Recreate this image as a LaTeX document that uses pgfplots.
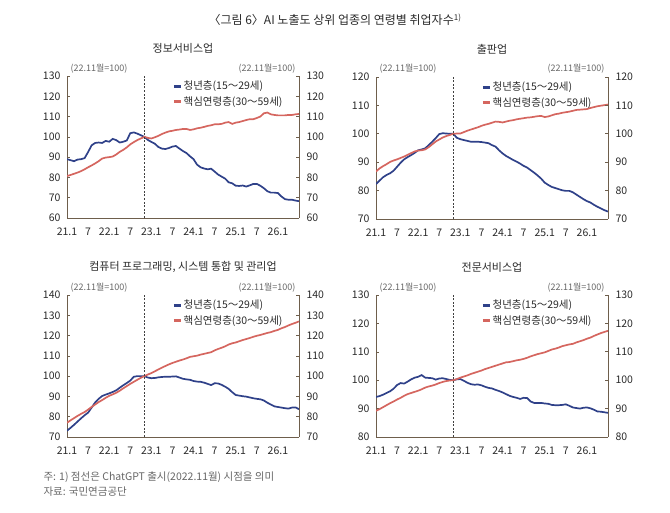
\documentclass[border=0pt]{standalone}
\usepackage{pgfplots}
\pgfplotsset{compat=1.18}
\usepackage{pgfplotstable}
\usepackage{fontspec}
\setmainfont{Noto Sans CJK KR}
\definecolor{young}{HTML}{2F4189}
\definecolor{core}{HTML}{D5665F}
\definecolor{axcol}{HTML}{6E5E4C}
\definecolor{txt}{HTML}{2A2A2A}
\definecolor{sub}{HTML}{666666}

\pgfplotstableread{
m y c
0 89.0 80.7
1 88.5 81.2
2 88.0 81.8
3 88.8 82.4
4 89.0 83.1
5 89.5 84.0
6 92.5 85.0
7 95.8 85.9
8 97.0 86.9
9 97.2 88.0
10 97.0 89.3
11 98.0 89.8
12 97.6 90.0
13 99.0 90.3
14 98.4 91.3
15 97.2 92.6
16 97.6 93.6
17 98.2 94.8
18 101.8 96.3
19 102.2 97.4
20 101.6 98.4
21 100.8 99.2
22 100.0 100.0
23 98.5 99.5
24 97.5 99.2
25 96.6 99.8
26 95.0 100.5
27 94.2 101.4
28 94.0 102.1
29 94.5 102.7
30 95.2 103.0
31 95.5 103.4
32 94.2 103.6
33 93.0 103.9
34 92.0 103.9
35 90.4 103.4
36 89.0 103.7
37 86.3 104.2
38 85.0 104.5
39 84.4 104.9
40 84.0 105.4
41 84.3 105.7
42 82.9 106.2
43 81.4 106.2
44 80.4 106.4
45 79.4 107.0
46 77.6 107.3
47 77.1 106.4
48 75.9 107.0
49 75.8 107.3
50 76.0 107.8
51 75.5 108.3
52 76.1 108.7
53 76.8 108.7
54 76.8 109.3
55 75.9 110.0
56 74.7 111.6
57 73.2 112.0
58 72.5 111.1
59 72.5 110.8
60 72.3 110.6
61 70.6 110.6
62 69.3 110.6
63 69.0 110.8
64 69.0 110.8
65 68.6 111.1
66 68.3 111.3
}\tabA

\pgfplotstableread{
m y c
0 82.3 86.7
1 83.5 87.8
2 84.7 88.6
3 85.5 89.3
4 86.1 90.1
5 87.0 90.6
6 88.4 91.0
7 89.8 91.5
8 91.0 92.0
9 91.8 92.6
10 92.5 93.2
11 93.3 93.8
12 94.2 94.1
13 94.5 94.2
14 94.9 94.5
15 96.0 95.3
16 97.2 96.3
17 98.5 97.3
18 99.9 98.0
19 100.2 98.7
20 100.1 99.2
21 100.0 99.6
22 100.0 100.0
23 98.6 100.1
24 98.1 100.1
25 97.8 100.6
26 97.5 101.1
27 97.2 101.5
28 97.2 101.9
29 97.2 102.3
30 97.1 102.8
31 96.9 103.2
32 96.7 103.5
33 96.0 103.9
34 95.5 104.3
35 94.2 104.2
36 93.1 104.0
37 92.2 104.3
38 91.5 104.6
39 90.8 104.8
40 90.2 105.1
41 89.5 105.3
42 88.7 105.5
43 88.1 105.7
44 87.2 105.8
45 86.3 106.0
46 85.3 106.2
47 84.2 106.3
48 82.8 105.9
49 82.0 106.1
50 81.3 106.5
51 80.9 106.9
52 80.5 107.1
53 80.1 107.4
54 79.9 107.6
55 79.9 107.8
56 79.4 108.1
57 78.6 108.4
58 77.8 108.5
59 77.0 108.6
60 76.3 108.7
61 75.8 109.1
62 75.0 109.4
63 74.3 109.7
64 73.7 109.9
65 73.1 110.1
66 72.6 110.3
}\tabB

\pgfplotstableread{
m y c
0 73.1 77.0
1 74.5 78.2
2 76.0 79.3
3 77.6 80.4
4 79.2 81.4
5 80.7 82.3
6 82.0 83.5
7 84.5 84.8
8 87.0 86.0
9 88.8 87.2
10 90.2 88.2
11 90.9 89.3
12 91.5 90.3
13 92.2 91.0
14 93.0 91.8
15 94.3 92.8
16 95.5 94.0
17 96.6 95.1
18 97.8 96.2
19 99.7 97.2
20 100.0 98.2
21 100.0 99.2
22 100.0 100.0
23 99.3 100.8
24 99.0 101.5
25 99.1 102.4
26 99.4 103.3
27 99.6 104.2
28 99.7 105.0
29 99.7 105.8
30 99.8 106.5
31 99.9 107.1
32 99.3 107.7
33 98.7 108.2
34 98.4 108.8
35 98.2 109.5
36 97.6 109.8
37 97.3 110.1
38 97.2 110.6
39 96.8 111.0
40 96.2 111.4
41 95.6 111.8
42 96.5 112.7
43 96.4 113.4
44 95.7 114.0
45 94.8 114.7
46 93.7 115.6
47 92.1 116.2
48 90.7 116.6
49 90.4 117.2
50 90.1 117.8
51 89.9 118.3
52 89.5 118.8
53 89.1 119.4
54 88.8 119.9
55 88.6 120.3
56 88.0 120.8
57 86.9 121.3
58 86.0 121.7
59 85.1 122.3
60 84.8 122.8
61 84.5 123.6
62 84.2 124.2
63 84.0 125.0
64 84.5 125.7
65 84.6 126.3
66 83.7 127.0
}\tabC

\pgfplotstableread{
m y c
0 94.1 89.2
1 94.4 89.8
2 94.9 90.5
3 95.5 91.2
4 96.1 91.9
5 97.0 92.5
6 98.3 93.2
7 99.0 93.8
8 98.8 94.5
9 99.5 95.1
10 100.3 95.5
11 100.9 95.9
12 101.2 96.3
13 101.8 96.8
14 100.9 97.4
15 100.8 97.8
16 100.7 98.1
17 100.2 98.5
18 100.6 99.0
19 100.7 99.4
20 100.4 99.7
21 100.1 99.9
22 100.0 100.0
23 100.3 100.4
24 100.4 100.9
25 99.8 101.3
26 99.1 101.7
27 98.6 102.2
28 98.4 102.6
29 98.5 103.0
30 98.2 103.4
31 97.7 103.9
32 97.3 104.3
33 97.1 104.7
34 96.6 105.1
35 96.2 105.5
36 95.7 105.9
37 95.1 106.3
38 94.5 106.4
39 94.1 106.7
40 93.8 107.0
41 93.4 107.2
42 93.8 107.5
43 93.7 107.9
44 92.5 108.4
45 92.0 108.8
46 92.0 109.2
47 92.0 109.5
48 91.8 109.8
49 91.7 110.3
50 91.3 110.8
51 91.2 111.1
52 91.2 111.5
53 91.3 112.0
54 91.5 112.3
55 91.0 112.6
56 90.4 112.8
57 90.2 113.3
58 90.0 113.7
59 90.3 114.1
60 90.4 114.6
61 90.1 115.0
62 89.6 115.6
63 89.0 116.1
64 88.9 116.6
65 88.7 117.0
66 88.5 117.4
}\tabD

\pgfplotsset{
  base/.style={
    scale only axis, width=232pt, height=142pt,
    xmin=0, xmax=66, ytick distance=10,
    axis line style={axcol, line width=0.9pt},
    y tick style={axcol, line width=0.6pt},
    tick align=inside, major tick length=3pt,
    ticklabel style={font=\fontsize{10.5}{12}\selectfont, text=txt},
    /pgf/number format/assume math mode=true,
    clip mode=individual,
  },
  panel/.style={base,
    axis x line*=bottom, axis y line*=left,
    xtick={0,6,...,60},
    xticklabels={21.1,7,22.1,7,23.1,7,24.1,7,25.1,7,26.1},
    x tick style={draw=none},
    xticklabel style={yshift=-6.5pt},
    yticklabel style={xshift=-3pt},
    legend style={at={(rel axis cs:0.455,0.975)}, anchor=north west,
      draw=none, fill=none, inner sep=0pt, row sep=2pt,
      font=\fontsize{10.5}{12}\selectfont, text=txt,
      nodes={inner sep=1.5pt}},
    legend cell align=left,
    legend image code/.code={\draw[#1, line width=2.4pt] (0pt,0pt) -- (7pt,0pt);},
  },
  rightax/.style={base,
    axis x line=none, axis y line*=right,
    yticklabel style={anchor=west, xshift=4pt},
  },
}

\newcommand\panel[6]{%
\begin{axis}[panel, at={(#1,#2)}, anchor=south west, ymin=#3, ymax=#4]
\addplot[young, line width=1.7pt] table[x=m,y=y] {#5};
\addlegendentry{청년층(15～29세)}
\addplot[core, line width=1.7pt] table[x=m,y=c] {#5};
\addlegendentry{핵심연령층(30～59세)}
\addplot[forget plot, black!75, line width=0.8pt, dash pattern=on 2pt off 1.6pt] coordinates {(22,#3) (22,#4)};
\node[anchor=base west, font=\fontsize{9}{11}\selectfont, text=sub, yshift=5pt] at (rel axis cs:0,1) {(22.11월=100)};
\node[anchor=base east, font=\fontsize{9}{11}\selectfont, text=sub, yshift=5pt] at (rel axis cs:1,1) {(22.11월=100)};
\node[font=\fontsize{11}{13}\selectfont, text=txt, yshift=28pt] at (rel axis cs:0.5,1) {#6};
\end{axis}
\begin{axis}[rightax, at={(#1,#2)}, anchor=south west, ymin=#3, ymax=#4]
\end{axis}
}

\begin{document}
\begin{tikzpicture}
\path[use as bounding box] (0pt,0pt) rectangle (670pt,512pt);
\panel{67pt}{294pt}{60}{130}{\tabA}{정보서비스업}
\panel{376pt}{293pt}{70}{120}{\tabB}{출판업}
\panel{67pt}{75pt}{70}{140}{\tabC}{컴퓨터 프로그래밍, 시스템 통합 및 관리업}
\panel{376pt}{75pt}{80}{130}{\tabD}{전문서비스업}
\node[font=\fontsize{12}{14}\selectfont, text=txt] at (335pt,492pt) {〈그림 6〉AI 노출도 상위 업종의 연령별 취업자수\textsuperscript{1)}};
\node[anchor=base west, font=\fontsize{10.5}{12}\selectfont, text=sub] at (40pt,32pt) {주: 1) 점선은 ChatGPT 출시(2022.11월) 시점을 의미};
\node[anchor=base west, font=\fontsize{10.5}{12}\selectfont, text=sub] at (40pt,17pt) {자료: 국민연금공단};
\end{tikzpicture}
\end{document}
